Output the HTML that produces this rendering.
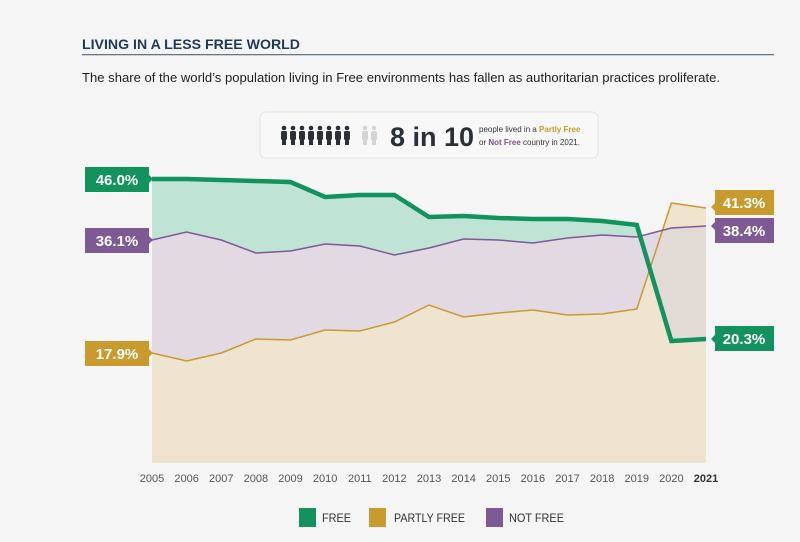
<!DOCTYPE html>
<html><head><meta charset="utf-8"><style>
body{margin:0;background:#f5f5f5;font-family:"Liberation Sans",sans-serif;}
.wrap{position:relative;width:800px;height:542px;overflow:hidden;background:#f5f5f5}
</style></head><body><div class="wrap">
<svg width="800" height="542" xmlns="http://www.w3.org/2000/svg" style="position:absolute;left:0;top:0">
<text x="82" y="49" font-size="14" font-weight="bold" fill="#1d3a5e" font-family="Liberation Sans" textLength="218" lengthAdjust="spacingAndGlyphs">LIVING IN A LESS FREE WORLD</text>
<rect x="82" y="54" width="692" height="1.3" fill="#6b7684"/>
<text x="82" y="82" font-size="13" fill="#222" font-family="Liberation Sans" textLength="638" lengthAdjust="spacingAndGlyphs">The share of the world’s population living in Free environments has fallen as authoritarian practices proliferate.</text>
<rect x="260" y="112" width="338" height="46" rx="6" fill="#f8f8f8" stroke="#e4e4e4"/>
<g fill="#2b2f36">
<g id="p"><circle cx="284" cy="128" r="2.3"/><rect x="281" y="131" width="6" height="9" rx="1.5"/><rect x="282" y="138" width="4" height="7"/></g>
<use href="#p" x="9"/><use href="#p" x="18"/><use href="#p" x="27"/><use href="#p" x="36"/><use href="#p" x="45"/><use href="#p" x="54"/><use href="#p" x="63"/>
</g>
<g fill="#d4d4d4"><circle cx="365" cy="128" r="2.3"/><rect x="362" y="131" width="6" height="9" rx="1.5"/><rect x="363" y="138" width="4" height="7"/><circle cx="374" cy="128" r="2.3"/><rect x="371" y="131" width="6" height="9" rx="1.5"/><rect x="372" y="138" width="4" height="7"/></g>
<text x="390" y="146" font-size="27" font-weight="bold" fill="#2b2f36" font-family="Liberation Sans">8 in 10</text>
<text x="479" y="132" font-size="8" fill="#333" font-family="Liberation Sans">people lived in a <tspan fill="#c99a2e" font-weight="bold">Partly Free</tspan></text>
<text x="479" y="145" font-size="8" fill="#333" font-family="Liberation Sans">or <tspan fill="#7e4f96" font-weight="bold">Not Free</tspan> country in 2021.</text>

<polygon fill="#eee4cf" points="152,353 186.6,361 221.3,353 255.9,339 290.5,340 325.1,330 359.8,331 394.4,322 429,305 463.6,317 498.3,313 532.9,310 567.5,315 602.1,314 636.8,309 671.4,203 706,208 706,463 152,463"/>
<polygon fill="#e3d9e3" points="152,240 186.6,232 221.3,240 255.9,253 290.5,251 325.1,244 359.8,246 394.4,255 429,248 463.6,239 498.3,240 532.9,243 567.5,238 602.1,235 636.8,237 662.7,230.3 636.8,309 602.1,314 567.5,315 532.9,310 498.3,313 463.6,317 429,305 394.4,322 359.8,331 325.1,330 290.5,340 255.9,339 221.3,353 186.6,361 152,353"/>
<polygon fill="#e2dad5" points="662.7,230.3 671.4,228 706,226 706,339 671.4,341 649.9,268.9"/>
<polygon fill="#bfe3d5" points="152,179 186.6,179 221.3,180 255.9,181 290.5,182 325.1,197 359.8,195 394.4,195 429,217 463.6,216 498.3,218 532.9,219 567.5,219 602.1,221 636.8,225 640.3,236 636.8,237 602.1,235 567.5,238 532.9,243 498.3,240 463.6,239 429,248 394.4,255 359.8,246 325.1,244 290.5,251 255.9,253 221.3,240 186.6,232 152,240"/>
<polyline fill="none" stroke="#c99a2e" stroke-width="1.5" points="152,353 186.6,361 221.3,353 255.9,339 290.5,340 325.1,330 359.8,331 394.4,322 429,305 463.6,317 498.3,313 532.9,310 567.5,315 602.1,314 636.8,309 671.4,203 706,208"/>
<polyline fill="none" stroke="#7e5a94" stroke-width="1.5" points="152,240 186.6,232 221.3,240 255.9,253 290.5,251 325.1,244 359.8,246 394.4,255 429,248 463.6,239 498.3,240 532.9,243 567.5,238 602.1,235 636.8,237 671.4,228 706,226"/>
<polyline fill="none" stroke="#12925c" stroke-width="4.5" points="152,179 186.6,179 221.3,180 255.9,181 290.5,182 325.1,197 359.8,195 394.4,195 429,217 463.6,216 498.3,218 532.9,219 567.5,219 602.1,221 636.8,225 671.4,341 706,339"/>

<g font-family="Liberation Sans" font-weight="bold" font-size="15" fill="#fff">
<rect x="85" y="167" width="64" height="25" fill="#12925c"/><polygon points="149,175 153,179 149,183" fill="#12925c"/><text x="117" y="185" text-anchor="middle">46.0%</text>
<rect x="85" y="228" width="64" height="25" fill="#7e5a94"/><polygon points="149,236 153,240 149,244" fill="#7e5a94"/><text x="117" y="246" text-anchor="middle">36.1%</text>
<rect x="85" y="341" width="64" height="25" fill="#c99a2e"/><polygon points="149,349 153,353 149,357" fill="#c99a2e"/><text x="117" y="359" text-anchor="middle">17.9%</text>
<rect x="715" y="190" width="59" height="25" fill="#c99a2e"/><polygon points="715,203 711,207 715,211" fill="#c99a2e"/><text x="744" y="208" text-anchor="middle">41.3%</text>
<rect x="715" y="218" width="59" height="25" fill="#7e5a94"/><polygon points="715,222 711,226 715,230" fill="#7e5a94"/><text x="744" y="236" text-anchor="middle">38.4%</text>
<rect x="715" y="326" width="59" height="25" fill="#12925c"/><polygon points="715,335 711,339 715,343" fill="#12925c"/><text x="744" y="344" text-anchor="middle">20.3%</text>
</g>
<g font-family="Liberation Sans" font-size="11" fill="#555" text-anchor="middle">
<text x="152" y="482">2005</text><text x="186.6" y="482">2006</text><text x="221.3" y="482">2007</text><text x="255.9" y="482">2008</text><text x="290.5" y="482">2009</text><text x="325.1" y="482">2010</text><text x="359.8" y="482">2011</text><text x="394.4" y="482">2012</text><text x="429" y="482">2013</text><text x="463.6" y="482">2014</text><text x="498.3" y="482">2015</text><text x="532.9" y="482">2016</text><text x="567.5" y="482">2017</text><text x="602.1" y="482">2018</text><text x="636.8" y="482">2019</text><text x="671.4" y="482">2020</text><text x="706" y="482" font-weight="bold" fill="#333">2021</text>
</g>
<g font-family="Liberation Sans" font-size="11.5" fill="#333">
<rect x="299" y="508" width="17" height="19" fill="#12925c"/><text x="322" y="522" textLength="29" lengthAdjust="spacingAndGlyphs">FREE</text>
<rect x="369" y="508" width="17" height="19" fill="#c99a2e"/><text x="394" y="522" textLength="71" lengthAdjust="spacingAndGlyphs">PARTLY FREE</text>
<rect x="486" y="508" width="17" height="19" fill="#7e5a94"/><text x="509" y="522" textLength="55" lengthAdjust="spacingAndGlyphs">NOT FREE</text>
</g>
</svg>
</div></body></html>
